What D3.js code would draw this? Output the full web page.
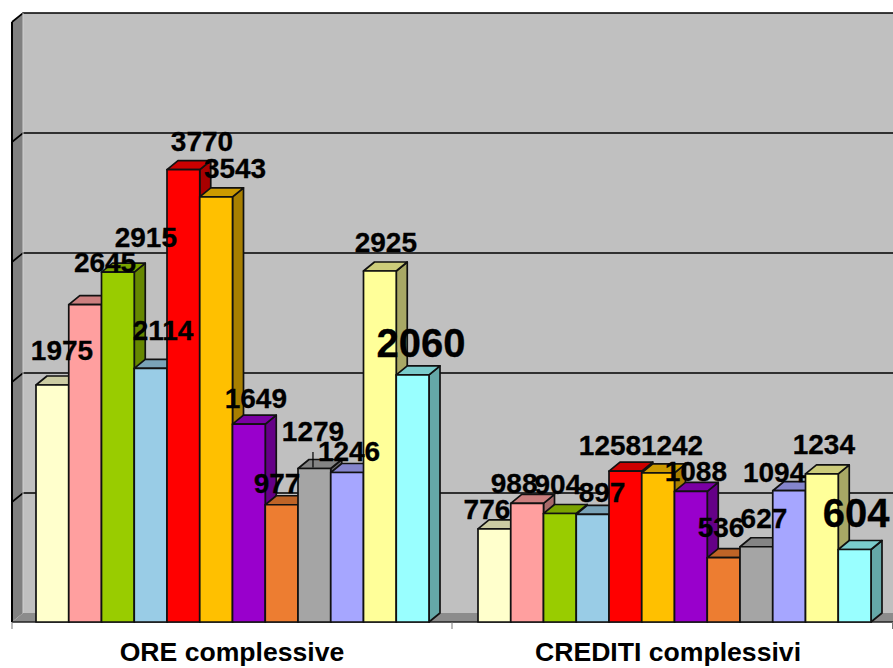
<!DOCTYPE html>
<html><head><meta charset="utf-8">
<script src="https://cdn.jsdelivr.net/npm/d3@7"></script>
<style>html,body{margin:0;padding:0;background:#fff;overflow:hidden}svg{display:block}</style>
</head><body><div id="c"></div>
<script>
const categories = ["ORE complessive", "CREDITI complessivi"];
const seriesIds = ["s1","s2","s3","s4","s5","s6","s7","s8","s9","s10","s11","s12"];
const oreValues = [1975,2645,2915,2114,3770,3543,1649,977,1279,1246,2925,2060];
const creditiValues = [776,988,904,897,1258,1242,1088,536,627,1094,1234,604];
const seriesColors = ["#ffffcc","#ff9f9f","#99cc00","#99cce6","#ff0000","#ffc000","#9900cc","#ed7d31","#a5a5a5","#a6a6ff","#ffff99","#99ffff"];
// hand placement of the value labels relative to the top centre of each bar
const oreLabelDx = [9.6,19.9,28,12.4,18.6,18.9,7,-4.6,-1.4,1.9,6,8.4];
const oreLabelDy = [-25,-32.6,-25,-28,-18.6,-18.8,-16,-11.8,-27.5,-11.5,-19,-18];
const credLabelDx = [-7.4,-13,-2,9.4,-15.4,13.9,5,-2.6,7.6,-15,2,1.4];
const credLabelDy = [-10,-10,-19.5,-12,-16,-18,-10,-21,-19,-9,-20,-22.5];

const W = 893, H = 668;
const frontLeft = 12, frontRight = 893, frontBase = 622, depthX = 11, depthY = 9;
const font = "'Liberation Sans', Arial, sans-serif";

const svg = d3.select("#c").append("svg").attr("width", W).attr("height", H);
const x0 = d3.scaleBand().domain(categories).range([frontLeft, frontRight + 3]);
const x1 = d3.scaleBand().domain(seriesIds).range([24, 417]);
const y = d3.scaleLinear().domain([0, 5000]).range([frontBase, frontBase - 600]);
const shade = (c, f) => { const r = d3.rgb(c); return d3.rgb(r.r * f, r.g * f, r.b * f).formatHex(); };
const pts = a => a.map(p => p.join(",")).join(" ");

// back wall, side wall, floor
const yTop = y(5000), xb = frontLeft + depthX;
svg.append("polygon").attr("points", pts([[xb, yTop - depthY], [W, yTop - depthY], [W, frontBase - depthY], [xb, frontBase - depthY]])).attr("fill", "#c0c0c0");
svg.append("polygon").attr("points", pts([[frontLeft, yTop], [xb, yTop - depthY], [xb, frontBase - depthY], [frontLeft, frontBase]])).attr("fill", "#808080");
svg.append("polygon").attr("points", pts([[frontLeft, frontBase], [xb, frontBase - depthY], [W, frontBase - depthY], [W, frontBase]])).attr("fill", "#8c8c8c");

// gridlines
y.ticks(5).forEach(t => {
  if (t > 0) {
    svg.append("polyline").attr("points", pts([[frontLeft, y(t)], [xb, y(t) - depthY], [W, y(t) - depthY]]))
      .attr("fill", "none").attr("stroke", "#000").attr("stroke-width", 1.7);
  }
});
svg.append("line").attr("x1", frontLeft).attr("x2", frontLeft).attr("y1", yTop).attr("y2", frontBase).attr("stroke", "#000").attr("stroke-width", 2);
svg.append("line").attr("x1", xb).attr("x2", xb).attr("y1", yTop - depthY).attr("y2", frontBase - depthY).attr("stroke", "#d0d0d0").attr("stroke-width", 1);

// baseline + category separators
svg.append("line").attr("x1", frontLeft).attr("x2", W).attr("y1", frontBase).attr("y2", frontBase).attr("stroke", "#222").attr("stroke-width", 1.7);
[frontLeft, x0(categories[1]) - 2, frontRight - 0.5].forEach(tx => {
  svg.append("line").attr("x1", tx).attr("x2", tx).attr("y1", frontBase).attr("y2", frontBase + 7).attr("stroke", "#777").attr("stroke-width", 1);
});

// bars
const groups = [
  { cat: categories[0], values: oreValues, dx: oreLabelDx, dy: oreLabelDy },
  { cat: categories[1], values: creditiValues, dx: credLabelDx, dy: credLabelDy }
];
groups.forEach(g => {
  g.values.forEach((v, i) => {
    const bx = x0(g.cat) + x1(seriesIds[i]), bw = x1.bandwidth(), t = y(v), col = seriesColors[i];
    const b = svg.append("g");
    const style = s => s.attr("stroke", "#111").attr("stroke-width", 1.7).attr("stroke-linejoin", "round");
    style(b.append("polygon").attr("points", pts([[bx + bw, t], [bx + bw + depthX, t - depthY], [bx + bw + depthX, frontBase - depthY], [bx + bw, frontBase]])).attr("fill", shade(col, 0.66)));
    style(b.append("polygon").attr("points", pts([[bx, t], [bx + depthX, t - depthY], [bx + bw + depthX, t - depthY], [bx + bw, t]])).attr("fill", shade(col, 0.8)));
    style(b.append("rect").attr("x", bx).attr("y", t).attr("width", bw).attr("height", frontBase - t).attr("fill", col));
  });
});

// leader line of the one label that was dragged away from its bar
const leadI = oreValues.indexOf(1279);
const leadX = x0(categories[0]) + x1(seriesIds[leadI]) + x1.bandwidth() / 2 + oreLabelDx[leadI];
svg.append("line").attr("x1", leadX).attr("x2", leadX).attr("y1", y(1279) + oreLabelDy[leadI] + 11).attr("y2", y(1279) - 1).attr("stroke", "#000").attr("stroke-width", 1.2);

// value labels
groups.forEach(g => {
  g.values.forEach((v, i) => {
    const bx = x0(g.cat) + x1(seriesIds[i]) + x1.bandwidth() / 2;
    svg.append("text").attr("x", bx + g.dx[i]).attr("y", y(v) + g.dy[i])
      .attr("text-anchor", "middle").attr("font-family", font).attr("font-weight", "bold")
      .attr("font-size", i === 11 ? 40 : 28).attr("fill", "#000").attr("stroke", "#000").attr("stroke-width", 0.3).text(v);
  });
});

// category labels
const axis = svg.append("g").attr("transform", `translate(0,${frontBase + 7})`)
  .call(d3.axisBottom(x0).tickSize(0).tickPadding(13));
axis.select(".domain").remove();
axis.selectAll("text").attr("font-family", font).attr("font-weight", "bold").attr("font-size", 26.6).attr("fill", "#000")
  .attr("dx", (d, i) => i === 0 ? -1 : -7);
</script></body></html>
